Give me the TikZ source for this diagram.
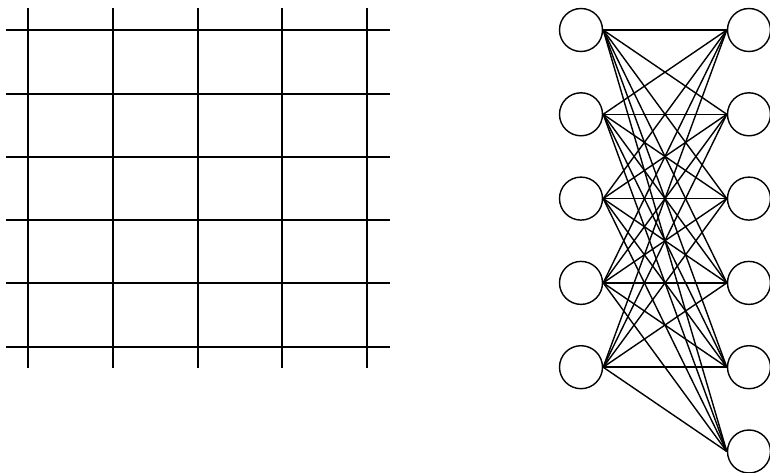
\documentclass[tikz,border=0pt]{standalone}
\usetikzlibrary{positioning}
\begin{document}
\begin{tikzpicture}[
      x=0.2mm, y=-0.2mm,
      gridline/.style={line width=0.95pt},
      vertex/.style={circle, draw, line width=0.8pt,
                     minimum size=8.6mm, inner sep=0pt},
      edge/.style={line width=0.8pt}
    ]
    \useasboundingbox (0,0) rectangle (770,473);

    % Left: the square grid, lines running past its outer crossings
    \foreach \x in {28,113,198,282,367}
      \draw[gridline] (\x,8) -- (\x,368);
    \foreach \y in {30,94,157,220,283,347}
      \draw[gridline] (6,\y) -- (390,\y);

    % Right: five vertices on one side, six on the other,
    % every pair joined from east point to west point
    \foreach \i in {1,...,5}
      \node[vertex] (left\i) at (581,{30+84.3*(\i-1)}) {};
    \foreach \j in {1,...,6}
      \node[vertex] (right\j) at (749,{30+84.3*(\j-1)}) {};

    \foreach \i in {1,...,5}
      \foreach \j in {1,...,6}
        \draw[edge] (left\i.east) -- (right\j.west);

  \end{tikzpicture}
\end{document}
